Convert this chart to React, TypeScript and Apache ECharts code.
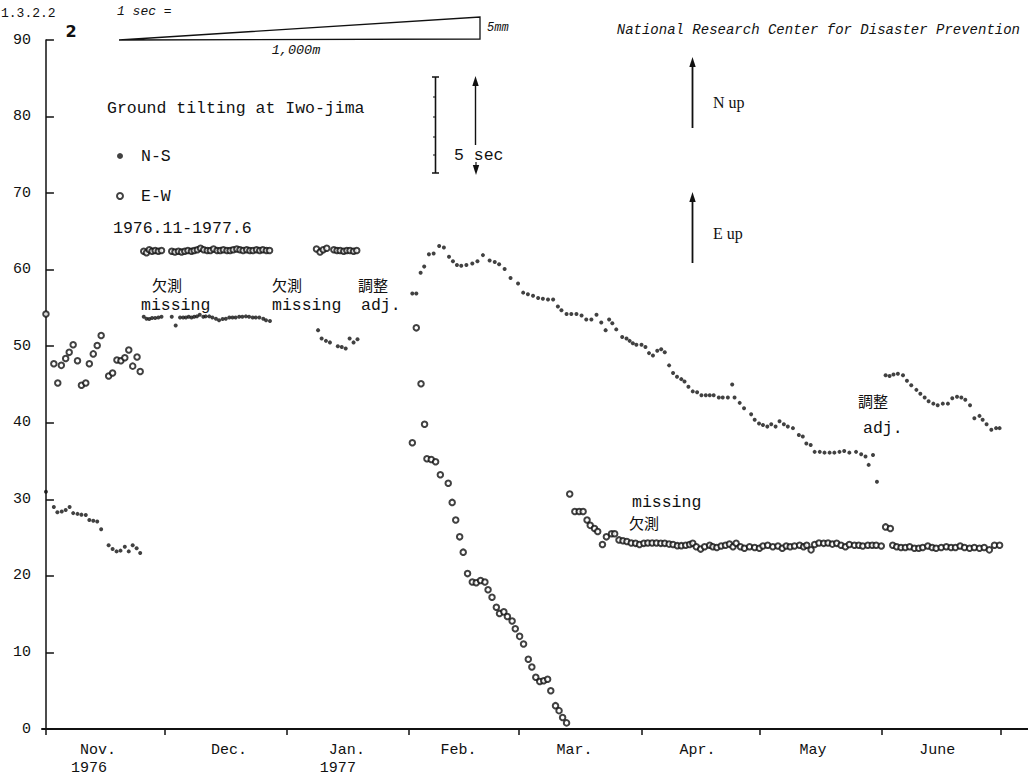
import React, { useEffect, useRef } from "react";
import * as echarts from "echarts";

// x = days since 1 Nov 1976
const MONTH_START_DAYS = [0, 30, 61, 92, 120, 151, 181, 212, 242];
const MONTH_LABEL_DAYS = [13.2, 46.4, 76.3, 104.6, 134, 165.2, 194.5, 226];
const MONTH_LABELS = ["Nov.", "Dec.", "Jan.", "Feb.", "Mar.", "Apr.", "May", "June"];
const YEAR_LABELS = ["1976", "", "1977", "", "", "", "", ""];

// N-S component (small dots)
const nsNov = [
  [0, 31.0], [2, 29.0], [2.9, 28.3], [4, 28.4], [5, 28.6], [6, 29.0], [6.9, 28.2], [8, 28.1],
  [9, 28.0], [10.1, 27.95], [11, 27.3], [12, 27.2], [13, 27.1], [14, 26.1], [15.9, 24.0],
  [16.9, 23.5], [17.9, 23.2], [18.9, 23.3], [20, 23.8], [21, 23.2], [22, 24.0], [23, 23.6], [23.9, 23.0],
];
const nsDec = [
  [24.8, 53.85], [25.5, 53.6], [26.2, 53.55], [26.9, 53.7], [27.7, 53.7], [28.5, 53.75], [29.3, 53.85],
  [31.9, 53.85], [32.9, 52.7], [34.0, 53.75], [34.8, 53.75], [35.5, 53.75], [36.2, 53.85], [36.9, 53.75],
  [37.6, 53.85], [38.3, 53.9], [39.0, 54.1], [39.9, 53.85], [40.5, 53.9], [41.4, 53.9], [42.2, 53.75],
  [43.1, 53.6], [43.9, 53.4], [44.8, 53.55], [45.6, 53.6], [46.5, 53.75], [47.3, 53.75], [48.1, 53.75],
  [49.0, 53.85], [49.8, 53.85], [50.7, 53.9], [51.5, 53.85], [52.4, 53.75], [53.2, 53.75], [54.1, 53.75],
  [55.1, 53.6], [55.8, 53.4], [56.8, 53.3],
];
const nsJan = [
  [69, 52.1], [69.9, 51.0], [71, 50.7], [72, 50.5], [74, 50.0], [75, 49.9], [76, 49.7],
  [77, 51.0], [78, 50.5], [79, 50.9],
];
const nsFebMay = [
  [92.9, 56.9], [93.9, 56.9], [95.0, 59.6], [95.9, 60.4], [97.1, 62.0], [98.3, 62.1], [99.7, 63.1],
  [100.9, 62.9], [102.2, 61.7], [103.2, 61.1], [104.2, 60.6], [105.3, 60.5], [106.6, 60.6], [108.1, 60.8],
  [109.4, 61.1], [110.8, 61.9], [112.5, 61.2], [113.8, 61.0], [114.9, 60.7], [116.3, 60.1], [117.8, 58.9],
  [119.7, 58.2], [121.0, 57.0], [122.2, 56.8], [123.5, 56.6], [124.8, 56.3], [126.0, 56.2], [127.3, 56.1],
  [128.6, 56.1], [129.8, 55.2], [130.7, 54.7], [132.0, 54.2], [133.2, 54.2], [134.5, 54.2], [135.8, 54.0],
  [137.0, 53.5], [138.3, 53.5], [139.6, 54.1], [140.8, 53.1], [141.9, 52.1], [142.8, 53.5], [143.6, 53.0],
  [144.6, 52.2], [146.1, 51.2], [147.2, 51.0], [148.0, 50.7], [148.8, 50.4], [149.7, 50.2], [151.0, 50.2],
  [152.0, 49.9], [152.9, 49.1], [153.9, 48.8], [155.0, 49.4], [156.0, 49.6], [156.9, 49.2], [158.0, 47.5],
  [159.0, 46.5], [160.0, 46.0], [161.1, 45.7], [161.9, 45.4], [162.9, 44.7], [164.0, 44.1], [165.1, 44.0],
  [166.2, 43.6], [167.3, 43.6], [168.3, 43.6], [169.3, 43.6], [170.6, 43.3], [171.6, 43.3], [172.9, 43.3],
  [174.0, 45.0], [174.6, 43.3], [175.9, 42.6], [177.0, 41.9], [178.8, 41.1], [179.7, 40.4], [180.8, 39.9],
  [181.8, 39.7], [182.9, 39.5], [183.9, 39.8], [185.0, 39.5], [186.0, 40.2], [187.1, 39.8], [188.1, 39.5],
  [189.4, 39.3], [190.9, 38.4], [191.9, 38.2], [192.8, 37.3], [193.9, 37.1], [194.9, 36.2], [196.2, 36.2],
  [197.4, 36.1], [198.7, 36.1], [199.9, 36.1], [201.2, 36.2], [202.4, 36.3], [203.7, 36.1], [205.4, 36.2],
  [206.7, 35.9], [207.8, 35.6], [208.6, 34.5], [209.7, 35.8], [210.7, 32.3],
];
const nsJune = [
  [212.9, 46.2], [213.9, 46.1], [214.9, 46.3], [216.0, 46.4], [217.3, 46.2], [218.3, 45.5], [219.4, 44.9],
  [220.7, 44.3], [221.7, 43.8], [222.8, 43.3], [223.8, 42.8], [225.0, 42.5], [226.1, 42.3], [227.4, 42.5],
  [228.7, 42.5], [229.8, 43.2], [231.0, 43.4], [232.1, 43.3], [233.1, 43.0], [234.3, 42.3], [235.4, 40.6],
  [236.7, 40.9], [237.5, 40.4], [238.5, 39.8], [239.7, 39.1], [240.9, 39.3], [241.8, 39.3],
];

// E-W component (open circles)
const ewNov = [
  [0, 54.2], [2, 47.7], [3, 45.2], [3.9, 47.5], [5, 48.4], [5.9, 49.2], [6.9, 50.2], [8, 48.1],
  [9, 44.9], [10.1, 45.2], [11, 47.7], [12, 49.0], [13, 50.1], [14, 51.4], [15.9, 46.1], [16.9, 46.5],
  [18, 48.2], [19, 48.1], [20, 48.5], [21, 49.5], [22, 47.4], [23.1, 48.6], [23.9, 46.7],
];
const ewDec = [
  [24.8, 62.4], [25.5, 62.2], [26.2, 62.6], [26.9, 62.4], [27.7, 62.5], [28.5, 62.4], [29.3, 62.5],
  [31.9, 62.4], [32.7, 62.3], [33.6, 62.4], [34.4, 62.3], [35.2, 62.4], [36.0, 62.5], [36.9, 62.4],
  [37.6, 62.5], [38.4, 62.6], [39.2, 62.8], [40.0, 62.6], [40.9, 62.5], [41.7, 62.5], [42.5, 62.7],
  [43.4, 62.5], [44.2, 62.5], [45.0, 62.6], [45.9, 62.5], [46.7, 62.5], [47.5, 62.6], [48.4, 62.7],
  [49.2, 62.6], [50.0, 62.5], [50.9, 62.6], [51.7, 62.5], [52.5, 62.5], [53.4, 62.6], [54.2, 62.5],
  [55.0, 62.6], [55.9, 62.5], [56.7, 62.5],
];
const ewJan = [
  [68.6, 62.7], [69.5, 62.3], [70.3, 62.6], [71.2, 62.8], [73.0, 62.6], [73.8, 62.5], [74.6, 62.5],
  [75.5, 62.4], [76.3, 62.5], [77.1, 62.5], [78.0, 62.4], [78.8, 62.5],
];
const ewFebMar = [
  [92.9, 37.4], [93.9, 52.4], [95.1, 45.1], [96.0, 39.8], [96.6, 35.3], [97.7, 35.2], [98.8, 34.9],
  [100.0, 33.2], [102.0, 32.1], [103.0, 29.6], [103.9, 27.3], [104.9, 25.1], [105.8, 23.1], [106.9, 20.3],
  [108.1, 19.2], [109.1, 19.1], [110.2, 19.4], [111.3, 19.2], [112.1, 18.2], [113.1, 17.2], [114.2, 15.9],
  [115.0, 15.1], [116.1, 15.3], [117.0, 14.7], [118.2, 14.1], [119.0, 13.1], [120.1, 12.1], [121.1, 11.1],
  [122.3, 9.1], [123.2, 8.1], [124.2, 6.75], [125.2, 6.2], [126.2, 6.3], [127.2, 6.5], [128.0, 5.0],
  [129.2, 3.05], [130.1, 2.4], [131.0, 1.5], [132.0, 0.8],
];
const ewMarJun = [
  [132.8, 30.7], [134.1, 28.4], [135.2, 28.4], [136.2, 28.4], [137.2, 27.3], [138.0, 26.6], [139.1, 26.2],
  [139.9, 25.8], [141.1, 24.1], [142.1, 25.1], [143.4, 25.5], [144.2, 25.5], [145.3, 24.7], [146.3, 24.6],
  [147.3, 24.5], [148.4, 24.3], [149.5, 24.25], [150.5, 24.1], [151.6, 24.25], [152.6, 24.3], [153.7, 24.3],
  [154.8, 24.3], [155.9, 24.25], [156.9, 24.25], [158.0, 24.15], [159.0, 24.1], [160.1, 23.95], [161.1, 23.95],
  [162.2, 24.0], [163.2, 24.1], [164.0, 24.25], [164.9, 23.8], [166.0, 23.5], [167.0, 23.8], [168.3, 24.0],
  [169.1, 23.8], [170.1, 23.7], [171.2, 23.9], [172.3, 24.0], [173.3, 24.15], [174.2, 23.8], [175.0, 24.25],
  [176.1, 23.8], [177.1, 23.6], [178.4, 23.8], [179.7, 23.7], [180.9, 23.6], [181.8, 23.9], [183.0, 24.0],
  [184.3, 23.8], [185.6, 23.9], [186.7, 23.6], [187.7, 23.9], [188.7, 23.8], [189.8, 23.9], [191.1, 24.0],
  [192.1, 23.8], [192.9, 24.0], [194.0, 23.4], [194.9, 24.1], [196.0, 24.3], [197.2, 24.25], [198.3, 24.3],
  [199.4, 24.15], [200.5, 24.25], [201.6, 24.0], [202.7, 23.8], [203.7, 24.1], [205.0, 24.0], [206.1, 24.0],
  [207.1, 23.9], [208.4, 24.0], [209.5, 24.0], [210.5, 24.0], [211.8, 23.9], [212.9, 26.4], [214.1, 26.2],
  [214.7, 24.0], [215.7, 23.8], [216.8, 23.7], [217.9, 23.7], [219.0, 23.8], [220.2, 23.6], [221.3, 23.6],
  [222.3, 23.7], [223.6, 23.9], [224.7, 23.7], [225.7, 23.6], [227.0, 23.7], [228.3, 23.8], [229.5, 23.7],
  [230.6, 23.7], [231.8, 23.9], [232.9, 23.7], [234.2, 23.6], [235.4, 23.7], [236.7, 23.6], [237.9, 23.7],
  [239.2, 23.4], [240.5, 24.0], [241.8, 24.0],
];

const MONO = '"Liberation Mono", "DejaVu Sans Mono", monospace';
const CJK = '"Noto Sans CJK JP", sans-serif';
const INK = "#111";

function txt(text: string, x: number, y: number, opts: any = {}) {
  return {
    type: "text",
    x,
    y,
    silent: true,
    style: {
      text,
      fill: INK,
      fontFamily: opts.fontFamily || MONO,
      fontSize: opts.fontSize || 16.5,
      fontStyle: opts.fontStyle || "normal",
      fontWeight: opts.fontWeight || "normal",
      align: opts.align || "left",
      verticalAlign: "middle",
    },
  };
}

function seg(x1: number, y1: number, x2: number, y2: number, w = 1.5) {
  return {
    type: "line",
    silent: true,
    shape: { x1, y1, x2, y2 },
    style: { stroke: INK, lineWidth: w },
  };
}

function head(x: number, y: number, dir: number) {
  // dir = -1 up, 1 down
  return {
    type: "polygon",
    silent: true,
    shape: { points: [[x, y], [x - 3.2, y - dir * 10], [x + 3.2, y - dir * 10]] },
    style: { fill: INK },
  };
}

export default function App() {
  const ref = useRef<HTMLDivElement>(null);

  useEffect(() => {
    document.body.style.margin = "0";
    if (!ref.current) return;
    const chart = echarts.init(ref.current, null, { renderer: "svg" });

    const labelIndex = (v: number) =>
      MONTH_LABEL_DAYS.findIndex((d) => Math.abs(d - v) < 0.01);

    const option: any = {
      animation: false,
      backgroundColor: "#ffffff",
      grid: { left: 42, right: 0, top: 40, bottom: 50 },
      legend: {
        left: 111,
        top: 142,
        orient: "vertical",
        itemWidth: 6,
        itemHeight: 6,
        itemGap: 22,
        data: [
          { name: "N-S", icon: "circle" },
          { name: "E-W", icon: "emptyCircle" },
        ],
        textStyle: {
          fontFamily: MONO,
          fontSize: 16.5,
          color: INK,
          lineHeight: 18,
          padding: [0, 0, 0, 13],
        },
      },
      xAxis: {
        type: "value",
        min: -1,
        max: 249,
        splitLine: { show: false },
        axisLine: { lineStyle: { color: INK, width: 2 } },
        axisTick: {
          customValues: MONTH_START_DAYS,
          length: 6,
          inside: false,
          lineStyle: { color: INK, width: 1.5 },
        },
        axisLabel: {
          customValues: MONTH_LABEL_DAYS,
          margin: 12,
          color: INK,
          fontFamily: MONO,
          fontSize: 15,
          lineHeight: 18,
          formatter: (v: number) => {
            const i = labelIndex(v);
            if (i < 0) return "";
            return YEAR_LABELS[i]
              ? `{m|${MONTH_LABELS[i]}}\n{y|${YEAR_LABELS[i]}}`
              : `{m|${MONTH_LABELS[i]}}`;
          },
          rich: {
            m: { fontFamily: MONO, fontSize: 15, color: INK, lineHeight: 18 },
            y: { fontFamily: MONO, fontSize: 15, color: INK, lineHeight: 18, padding: [0, 18, 0, 0] },
          },
        },
      },
      yAxis: {
        type: "value",
        min: 0,
        max: 90,
        interval: 10,
        splitLine: { show: false },
        axisLine: { show: true, lineStyle: { color: INK, width: 1.5 } },
        axisTick: { show: true, inside: true, length: 8, lineStyle: { color: INK, width: 1.5 } },
        axisLabel: { color: INK, fontFamily: MONO, fontSize: 15, margin: 11 },
      },
      series: [
        {
          name: "N-S",
          type: "scatter",
          symbol: "circle",
          symbolSize: 4,
          itemStyle: { color: INK },
          data: [...nsNov, ...nsDec, ...nsJan, ...nsFebMay, ...nsJune],
        },
        {
          name: "E-W",
          type: "scatter",
          symbol: "emptyCircle",
          symbolSize: 5.5,
          itemStyle: { color: INK, borderColor: INK, borderWidth: 1.7 },
          data: [...ewNov, ...ewDec, ...ewJan, ...ewFebMar, ...ewMarJun],
        },
      ],
      graphic: [
        txt("1.3.2.2", 1, 13, { fontSize: 13 }),
        txt("2", 71, 31, { fontSize: 16, fontWeight: "bold", align: "center", fontFamily: '"DejaVu Sans", sans-serif' }),
        txt("1 sec =", 117, 11, { fontSize: 13, fontStyle: "italic" }),
        {
          type: "polygon",
          silent: true,
          shape: { points: [[119, 40], [480, 39], [480, 17]] },
          style: { fill: "none", stroke: INK, lineWidth: 1.3 },
        },
        txt("5mm", 487, 28, { fontSize: 12, fontStyle: "italic" }),
        txt("1,000m", 296, 50, { fontSize: 13.5, fontStyle: "italic", align: "center" }),
        txt("National Research Center for Disaster Prevention", 1020, 30, { fontSize: 14, fontStyle: "italic", align: "right" }),
        txt("Ground tilting at Iwo-jima", 107, 108),
        txt("1976.11-1977.6", 113, 228),
        txt("欠測", 152, 284, { fontFamily: CJK, fontSize: 15 }),
        txt("missing", 141, 305),
        txt("欠測", 272, 284, { fontFamily: CJK, fontSize: 15 }),
        txt("missing", 272, 305),
        txt("調整", 358, 284, { fontFamily: CJK, fontSize: 15 }),
        txt("adj.", 361, 305),
        txt("missing", 632, 502),
        txt("欠測", 629, 522, { fontFamily: CJK, fontSize: 15 }),
        txt("調整", 858, 400, { fontFamily: CJK, fontSize: 15 }),
        txt("adj.", 863, 428),
        // 5 sec scale bar
        seg(435.5, 77, 435.5, 173, 1.6),
        seg(432, 77, 439, 77, 1.5),
        seg(432, 173, 439, 173, 1.5),
        seg(433, 97, 436, 97, 1),
        seg(433, 117, 436, 117, 1),
        seg(433, 137, 436, 137, 1),
        seg(433, 155, 436, 155, 1),
        seg(475.5, 84, 475.5, 145, 1.4),
        head(475.5, 76, -1),
        txt("5 sec", 454, 155),
        seg(476, 162, 476, 168, 1.2),
        head(476, 175, 1),
        // N up / E up arrows
        seg(692.5, 66, 692.5, 128, 1.8),
        head(692.5, 57, -1),
        txt("N up", 713, 102, { fontFamily: '"Liberation Serif", serif', fontSize: 16 }),
        seg(692.5, 201, 692.5, 263, 1.8),
        head(692.5, 192, -1),
        txt("E up", 713, 233, { fontFamily: '"Liberation Serif", serif', fontSize: 16 }),
      ],
    };

    chart.setOption(option);
    return () => chart.dispose();
  }, []);

  return <div ref={ref} style={{ width: 1028, height: 779, background: "#fff" }} />;
}
